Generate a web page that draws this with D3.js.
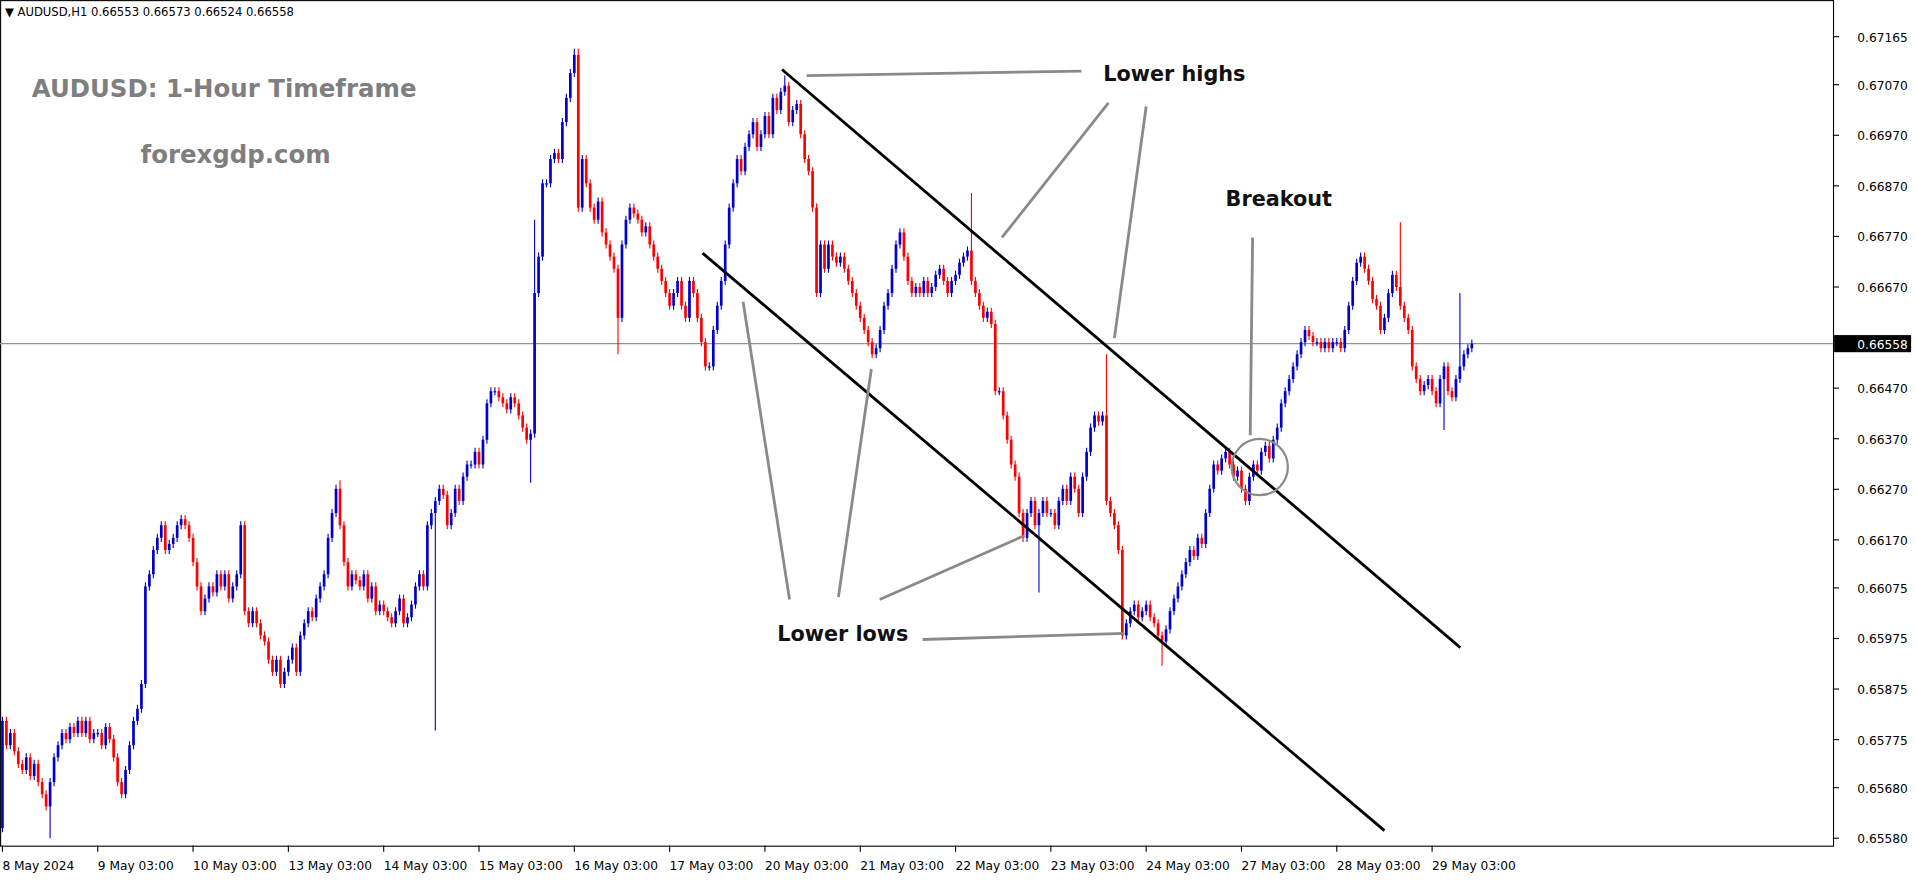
<!DOCTYPE html>
<html><head><meta charset="utf-8">
<script src="https://cdn.jsdelivr.net/npm/d3@7"></script>
<style>
body{margin:0;background:#fff;overflow:hidden}
text{font-family:"DejaVu Sans",sans-serif}
</style></head>
<body><div id="chart"></div>
<script>
// closes in pipettes above 0.65000, 24 hourly candles per day
const day08 = [812,764,788,752,727,715,740,703,727,691,667,643,691,740,764,788,776,800,788,812,788,812,776,788]
const day09 = [788,764,800,776,740,691,667,715,764,812,836,885,1078,1102,1150,1174,1199,1150,1162,1174,1199,1211,1199,1174]
const day10 = [1126,1078,1029,1054,1078,1066,1102,1078,1102,1054,1078,1102,1199,1029,1005,1029,1005,981,969,933,909,933,885,909]
const day13 = [933,957,909,981,1005,1029,1017,1054,1078,1102,1174,1223,1271,1199,1126,1078,1102,1090,1078,1102,1054,1078,1029,1042]
const day14 = [1029,1017,1005,1029,1054,1005,1017,1042,1078,1102,1078,1199,1223,1247,1271,1259,1199,1223,1271,1247,1295,1319,1319,1344]
const day15 = [1319,1368,1440,1464,1464,1452,1440,1428,1452,1440,1416,1392,1368,1380,1658,1730,1875,1875,1923,1935,1923,1996,2044,2093]
const day16 = [2129,1827,1923,1875,1827,1803,1839,1778,1754,1730,1706,1609,1754,1803,1827,1815,1803,1778,1790,1754,1730,1706,1682,1658]
const day17 = [1633,1658,1682,1633,1609,1682,1658,1609,1561,1513,1513,1585,1633,1682,1754,1827,1875,1923,1899,1947,1972,1996,1947,1972]
const day20 = [2008,1972,2044,2020,2056,2068,1996,2020,2032,1972,1923,1899,1827,1658,1754,1706,1754,1730,1718,1730,1706,1682,1658,1633]
const day21 = [1609,1585,1561,1537,1549,1585,1633,1658,1706,1754,1778,1730,1682,1658,1670,1658,1682,1658,1670,1694,1706,1682,1658,1682]
const day22 = [1694,1718,1730,1742,1682,1658,1633,1609,1621,1597,1464,1464,1416,1368,1319,1295,1223,1174,1223,1247,1199,1223,1247,1223]
const day23 = [1223,1199,1247,1271,1247,1295,1271,1223,1295,1344,1392,1416,1404,1416,1247,1223,1199,1150,981,1005,1029,1042,1017,1029]
const day24 = [1042,1017,1005,981,969,993,1029,1054,1078,1102,1126,1150,1138,1174,1162,1223,1271,1319,1307,1331,1344,1319,1295,1307]
const day27 = [1271,1247,1295,1319,1307,1344,1356,1331,1368,1392,1440,1464,1488,1513,1537,1561,1585,1573,1561,1561,1549,1561,1549,1561]
const day28 = [1561,1549,1585,1633,1682,1718,1730,1706,1682,1646,1633,1585,1609,1658,1694,1670,1633,1609,1585,1513,1488,1464,1476,1488]
const day29 = [1464,1440,1488,1513,1464,1452,1488,1513,1537,1549,1558]
const firstOpen = 600
// notable wicks: [candle index, high, low] (pipettes, null = normal)
const wicks = [[12,null,580],[85,1288,null],[109,null,793],[133,null,1283],[134,1803,null],[144,2141,null],[145,2141,null],
  [155,null,1537],[197,2088,null],[244,1856,null],[261,null,1066],[278,1537,null],[292,null,921],[352,1798,null],[363,null,1387],[367,1658,null]]

const dayLabels = ['8 May 2024','9 May 03:00','10 May 03:00','13 May 03:00','14 May 03:00','15 May 03:00','16 May 03:00','17 May 03:00',
  '20 May 03:00','21 May 03:00','22 May 03:00','23 May 03:00','24 May 03:00','27 May 03:00','28 May 03:00','29 May 03:00']
const priceTicks = [0.67165,0.67070,0.66970,0.66870,0.66770,0.66670,0.66470,0.66370,0.66270,0.66170,0.66075,0.65975,0.65875,0.65775,0.65680,0.65580]
const lastPrice = 0.66558

// channel and pointer annotations in [candle index, price]
const upperChannel = [[196.3,0.67100],[367.1,0.65957]]
const lowerChannel = [[176.3,0.66737],[348.0,0.65595]]
const pointers = [
  [[202.5,0.67088],[271.7,0.67097]],
  [[278.5,0.67034],[251.7,0.66768]],
  [[288.0,0.67027],[280.0,0.66569]],
  [[314.8,0.66768],[314.2,0.66377]],
  [[186.5,0.66641],[198.2,0.66052]],
  [[218.8,0.66508],[210.5,0.66057]],
  [[220.9,0.66052],[257.2,0.66178]],
  [[231.7,0.65973],[282.5,0.65985]]
]
const breakoutCircle = [316.6,0.66314]
const notes = [['Lower highs',277.2,0.67077],['Breakout',308.0,0.66830],['Lower lows',195.1,0.65970]]

const W = 1916, H = 884
const k = W / 1568   // layout below is in a 1568-wide frame
const plot = {left: 0, right: 1500, top: 0, bottom: 692}

const closes = [].concat(day08,day09,day10,day13,day14,day15,day16,day17,day20,day21,day22,day23,day24,day27,day28,day29)
const extra = new Map(wicks.map((w) => [w[0], w]))
const candles = closes.map((c, i) => {
  const o = i === 0 ? firstOpen : closes[i - 1]
  const w = extra.get(i)
  let hi = Math.max(o, c) + 8, lo = Math.min(o, c) - 8
  if (w && w[1] != null) hi = w[1]
  if (w && w[2] != null) lo = w[2]
  return {i, o: 0.65 + o / 1e5, c: 0.65 + c / 1e5, h: 0.65 + hi / 1e5, l: 0.65 + lo / 1e5}
})

const x = d3.scaleLinear().domain([0, 1]).range([2, 5.25])
const y = d3.scaleLinear().domain([0.65580, 0.67165]).range([686, 30])

const svg = d3.select('#chart').append('svg').attr('width', W).attr('height', H)
  .append('g').attr('transform', 'scale(' + k + ')')

// frame
svg.append('rect').attr('x', plot.left + 0.5).attr('y', plot.top + 0.5)
  .attr('width', plot.right - plot.left).attr('height', plot.bottom - plot.top)
  .attr('fill', 'none').attr('stroke', '#000').attr('stroke-width', 0.9)

// price axis
const ya = svg.append('g').attr('class', 'y axis')
priceTicks.forEach((p) => {
  ya.append('line').attr('x1', plot.right).attr('x2', plot.right + 5)
    .attr('y1', y(p)).attr('y2', y(p)).attr('stroke', '#000').attr('stroke-width', 0.9)
  ya.append('text').attr('x', plot.right + 20).attr('y', y(p) + 4)
    .attr('font-size', 10).text(p.toFixed(5))
})

// time axis
const xa = svg.append('g').attr('class', 'x axis')
dayLabels.forEach((lab, d) => {
  const px = x(d * 24)
  xa.append('line').attr('x1', px).attr('x2', px).attr('y1', plot.bottom).attr('y2', plot.bottom + 5).attr('stroke', '#000').attr('stroke-width', 0.9)
  xa.append('text').attr('x', px).attr('y', plot.bottom + 20).attr('font-size', 10).text(lab)
})

// last price line
svg.append('line').attr('x1', plot.left).attr('x2', plot.right)
  .attr('y1', y(lastPrice)).attr('y2', y(lastPrice))
  .attr('stroke', '#8c96a0').attr('stroke-width', 0.9)

// candles
const cg = svg.append('g').attr('class', 'candle-container')
cg.selectAll('.wick').data(candles).enter().append('line')
  .attr('class', 'wick')
  .attr('x1', (d) => x(d.i)).attr('x2', (d) => x(d.i))
  .attr('y1', (d) => y(d.h)).attr('y2', (d) => y(d.l))
  .attr('stroke', (d) => d.c >= d.o ? '#0000cd' : '#ff0000').attr('stroke-width', 0.9)
cg.selectAll('.body').data(candles).enter().append('rect')
  .attr('class', 'body')
  .attr('x', (d) => x(d.i) - 1.1).attr('width', 2.2)
  .attr('y', (d) => y(Math.max(d.o, d.c)))
  .attr('height', (d) => Math.max(1, Math.abs(y(d.o) - y(d.c))))
  .attr('fill', (d) => d.c >= d.o ? '#0000cd' : '#ff0000')

// annotations
const line = d3.line().x((d) => x(d[0])).y((d) => y(d[1]))
const ag = svg.append('g').attr('class', 'annotations')
;[upperChannel, lowerChannel].forEach((seg) => {
  ag.append('path').attr('d', line(seg)).attr('stroke', '#000').attr('stroke-width', 2.3).attr('fill', 'none')
})
pointers.forEach((seg) => {
  ag.append('path').attr('d', line(seg)).attr('stroke', '#8a8a8a').attr('stroke-width', 2.3).attr('fill', 'none')
})
ag.append('circle').attr('cx', x(breakoutCircle[0])).attr('cy', y(breakoutCircle[1])).attr('r', 23)
  .attr('fill', 'none').attr('stroke', '#8a8a8a').attr('stroke-width', 1.8)
notes.forEach((n) => {
  ag.append('text').attr('x', x(n[1])).attr('y', y(n[2]))
    .attr('font-family', 'Open Sans').attr('font-weight', 'bold').attr('font-size', 17)
    .attr('fill', '#111').text(n[0])
})

// titles
svg.append('text').attr('x', 26).attr('y', 79).attr('font-family', 'Open Sans').attr('font-weight', 'bold')
  .attr('font-size', 20).attr('fill', '#7f7f7f').text('AUDUSD: 1-Hour Timeframe')
svg.append('text').attr('x', 115).attr('y', 133).attr('font-family', 'Open Sans').attr('font-weight', 'bold')
  .attr('font-size', 20).attr('fill', '#7f7f7f').text('forexgdp.com')
svg.append('text').attr('x', 4).attr('y', 13).attr('font-size', 9.5)
  .text('\u25BC AUDUSD,H1  0.66553 0.66573 0.66524 0.66558')

// last price box
const ly = y(lastPrice)
svg.append('rect').attr('x', plot.right + 1).attr('y', ly - 7).attr('width', 63).attr('height', 14).attr('fill', '#000')
svg.append('text').attr('x', plot.right + 20).attr('y', ly + 4).attr('font-size', 10).attr('fill', '#fff')
  .text(lastPrice.toFixed(5))
</script></body></html>
